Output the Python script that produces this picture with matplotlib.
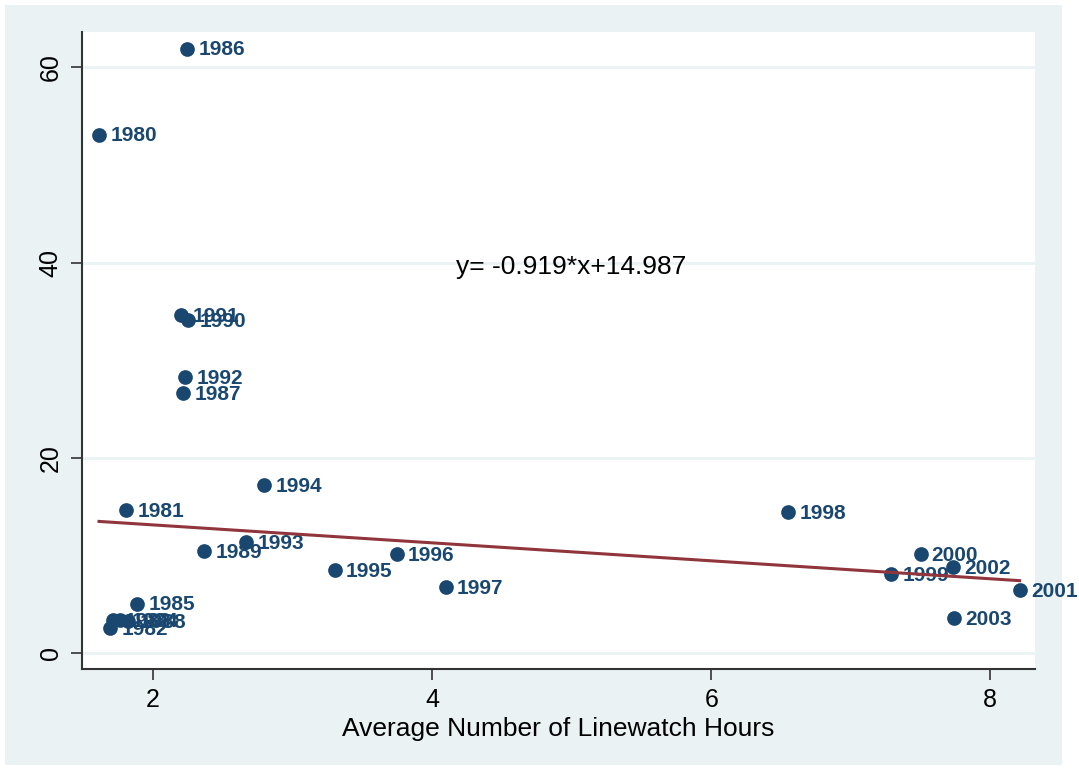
import matplotlib
matplotlib.use("Agg")
import matplotlib.pyplot as plt
from matplotlib.patches import Rectangle
import numpy as np

plt.rcParams['font.family'] = ['Liberation Sans', 'DejaVu Sans']

years = [1980, 1981, 1982, 1983, 1984, 1985, 1986, 1987, 1988, 1989, 1990, 1991,
         1992, 1993, 1994, 1995, 1996, 1997, 1998, 1999, 2000, 2001, 2002, 2003]
hours = [1.612, 1.806, 1.691, 1.713, 1.763, 1.885, 2.244, 2.215, 1.820, 2.366, 2.250, 2.200,
         2.230, 2.668, 2.797, 3.300, 3.744, 4.096, 6.550, 7.290, 7.500, 8.210, 7.730, 7.740]
values = [53.1, 14.7, 2.6, 3.4, 3.4, 5.1, 61.9, 26.6, 3.3, 10.5, 34.1, 34.6,
          28.3, 11.4, 17.2, 8.5, 10.2, 6.8, 14.5, 8.1, 10.2, 6.5, 8.8, 3.6]
slope = -0.919
intercept = 14.987
equation = "y= -0.919*x+14.987"
xticks = [2, 4, 6, 8]
yticks = [0, 20, 40, 60]

W, H = 1079, 771
fig = plt.figure(figsize=(W / 100, H / 100), dpi=100)
fig.patch.set_facecolor('white')
bg = '#EAF2F3'
rect = Rectangle((5 / W, 6 / H), (1062 - 5) / W, (765 - 5) / H,
                 transform=fig.transFigure, facecolor=bg, edgecolor='none', zorder=-10)
fig.add_artist(rect)

left, right, top, bottom = 82, 1035, 32, 669
ax = fig.add_axes([left / W, (H - bottom) / H, (right - left) / W, (bottom - top) / H])
ax.set_facecolor('white')
ax.set_zorder(1)

navy = '#1A476F'
maroon = '#90353B'

for i, (yr, x, y) in enumerate(zip(years, hours, values)):
    ax.scatter([x], [y], s=112, color=navy, zorder=3 + 2 * i, linewidths=0)
    ax.annotate(str(yr), (x, y), xytext=(8, -1), textcoords='offset points',
                va='center', ha='left', fontsize=15, color=navy, fontweight='bold',
                zorder=4 + 2 * i, annotation_clip=False)

xs = np.array([min(hours), max(hours)])
ax.plot(xs, slope * xs + intercept, color=maroon, lw=2.2, zorder=100)

ax.text(4.168, 39.5, equation, fontsize=19, color='black', va='center', ha='left', zorder=101)

ax.set_xlim(1.49, 8.32)
ax.set_ylim(-1.6, 63.6)
ax.set_xticks(xticks)
ax.set_yticks(yticks)
ax.set_yticklabels([str(t) for t in yticks], rotation=90, va='center')
ax.tick_params(axis='both', direction='out', length=8, width=1.2, color='#333333',
               labelsize=18, pad=6)
ax.yaxis.grid(True, color=bg, lw=2)
ax.set_axisbelow(True)
for s in ['top', 'right']:
    ax.spines[s].set_visible(False)
for s in ['left', 'bottom']:
    ax.spines[s].set_color('#333333')
    ax.spines[s].set_linewidth(1.5)

ax.set_xlabel("Average Number of Linewatch Hours", fontsize=19, labelpad=3)

fig.savefig("out.png", dpi=100, facecolor=fig.get_facecolor())
